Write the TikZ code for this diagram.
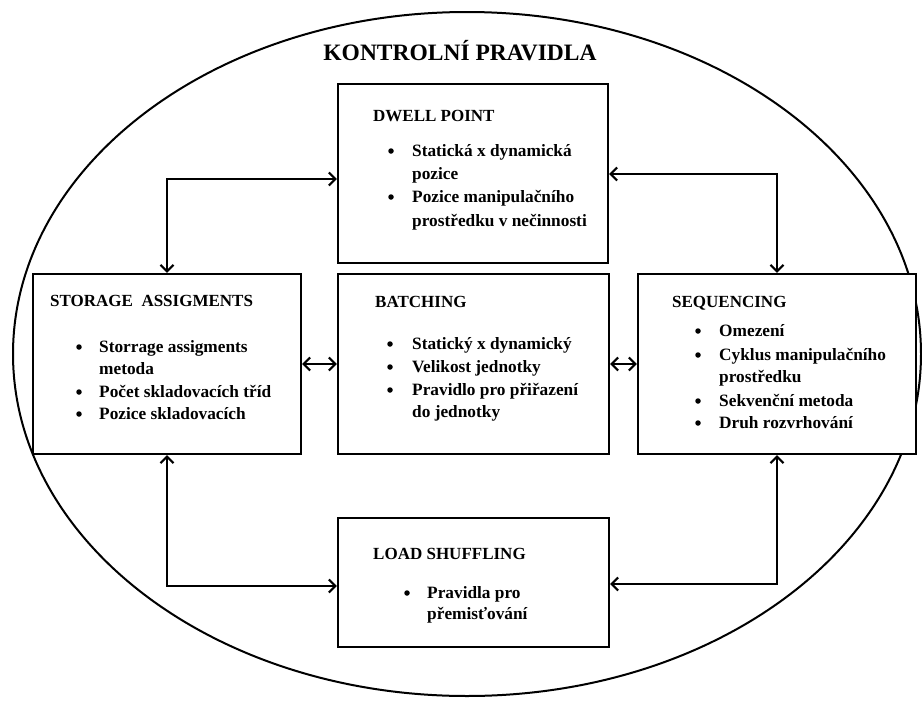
\documentclass[tikz,border=0pt]{standalone}
\usepackage{fontspec}
\setmainfont{Liberation Serif}
\usetikzlibrary{arrows.meta}

\tikzset{
  box/.style={draw=black, line width=2.2pt, fill=white, inner sep=0pt},
  link/.style={draw=black, line width=2.2pt,
    {Straight Barb[length=6.5pt,width=13pt]}-{Straight Barb[length=6.5pt,width=13pt]}},
  ttl/.style={font=\fontsize{23.5}{28}\selectfont\bfseries, inner sep=0pt, anchor=base},
  head/.style={font=\fontsize{17}{20}\selectfont\bfseries, inner sep=0pt, anchor=base west},
  txt/.style={font=\fontsize{17.3}{20}\selectfont\bfseries, inner sep=0pt, anchor=base west},
  dot/.style={circle, fill=black, inner sep=0pt, minimum size=5.5pt},
}

\begin{document}
\begin{tikzpicture}[x=1pt, y=-1pt]
\useasboundingbox (0,0) rectangle (922,702);

% outer boundary
\draw[line width=2pt] (467,354) ellipse [x radius=454, y radius=342];
\node[ttl] (kp) at (460,60) {KONTROLNÍ PRAVIDLA};

% the five rule boxes
\node[box, minimum width=270pt, minimum height=179pt] (dwell) at (473,173.5) {};
\node[box, minimum width=268pt, minimum height=180pt] (storage) at (167,364) {};
\node[box, minimum width=271pt, minimum height=180pt] (batch) at (473.5,364) {};
\node[box, minimum width=278pt, minimum height=180pt] (seq) at (777,364) {};
\node[box, minimum width=271pt, minimum height=129pt] (load) at (473.5,582.5) {};

% connectors
\coordinate (ltc) at (167,179);
\coordinate (rtc) at (777,174);
\coordinate (lbc) at (167,586);
\coordinate (rbc) at (777,584);
\draw[link] (storage.north) -- (ltc) -- (ltc -| dwell.west);
\draw[link] (dwell.east |- rtc) -- (rtc) -- (seq.north);
\draw[link] (storage.south) -- (lbc) -- (lbc -| load.west);
\draw[link] (seq.south) -- (rbc) -- (rbc -| load.east);
\draw[link] (storage.east) -- (batch.west);
\draw[link] (batch.east) -- (seq.west);

% DWELL POINT
\node[head] (dw-h) at (373,121) {DWELL POINT};
\node[dot] (dw-b1) at (391,151) {};
\node[txt] (dw-1) at (412,156) {Statická x dynamická};
\node[txt] (dw-2) at (412,179) {pozice};
\node[dot] (dw-b2) at (391,197) {};
\node[txt] (dw-3) at (412,202) {Pozice manipulačního};
\node[txt] (dw-4) at (412,226) {prostředku v nečinnosti};

% STORAGE ASSIGMENTS
\node[head] (st-h) at (50,306) {STORAGE \ ASSIGMENTS};
\node[dot] (st-b1) at (79,347) {};
\node[txt] (st-1) at (99,352) {Storrage assigments};
\node[txt] (st-2) at (99,374) {metoda};
\node[dot] (st-b2) at (79,392) {};
\node[txt] (st-3) at (99,397) {Počet skladovacích tříd};
\node[dot] (st-b3) at (79,414) {};
\node[txt] (st-4) at (99,419) {Pozice skladovacích};

% BATCHING
\node[head] (ba-h) at (375,307) {BATCHING};
\node[dot] (ba-b1) at (390,344) {};
\node[txt] (ba-1) at (412,349) {Statický x dynamický};
\node[dot] (ba-b2) at (390,367) {};
\node[txt] (ba-2) at (412,372) {Velikost jednotky};
\node[dot] (ba-b3) at (390,390) {};
\node[txt] (ba-3) at (412,395) {Pravidlo pro přiřazení};
\node[txt] (ba-4) at (412,417) {do jednotky};

% SEQUENCING
\node[head] (se-h) at (672,307) {SEQUENCING};
\node[dot] (se-b1) at (698,331) {};
\node[txt] (se-1) at (719,336) {Omezení};
\node[dot] (se-b2) at (698,355) {};
\node[txt] (se-2) at (719,360) {Cyklus manipulačního};
\node[txt] (se-3) at (719,382) {prostředku};
\node[dot] (se-b3) at (698,401) {};
\node[txt] (se-4) at (719,406) {Sekvenční metoda};
\node[dot] (se-b4) at (698,423) {};
\node[txt] (se-5) at (719,428) {Druh rozvrhování};

% LOAD SHUFFLING
\node[head] (lo-h) at (373,559) {LOAD SHUFFLING};
\node[dot] (lo-b1) at (407,593) {};
\node[txt] (lo-1) at (427,598) {Pravidla pro};
\node[txt] (lo-2) at (427,619) {přemisťování};
\end{tikzpicture}
\end{document}
